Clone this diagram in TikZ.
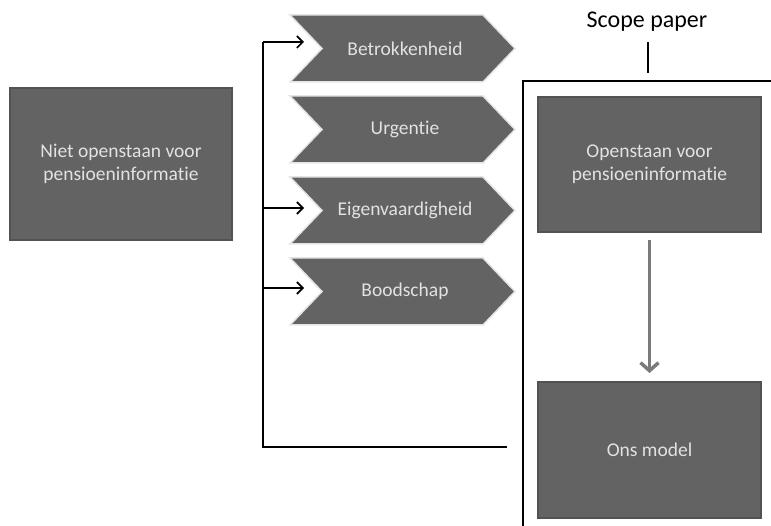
\documentclass[tikz,border=0pt]{standalone}
\usepackage{fontspec}
\setmainfont{Carlito}[Ligatures=NoCommon]
\usetikzlibrary{arrows.meta}
\definecolor{boxfill}{HTML}{636363}
\definecolor{boxedge}{HTML}{525252}
\definecolor{boxtext}{HTML}{E2E2E2}
\definecolor{flowgray}{HTML}{7A7A7A}
\tikzset{
  darkbox/.style={draw=boxedge, line width=1.2pt, fill=boxfill},
  boxlabel/.style={text=boxtext, font=\fontsize{19.5}{23}\selectfont, align=center},
  chevshape/.style={fill=boxfill, draw=black!10, line width=1.5pt, line join=miter},
  bracket/.style={draw=black, line width=1.8pt},
  feed/.style={draw=black, line width=1.6pt, -{Straight Barb[length=6pt,width=12pt,line width=1.6pt]}},
}
\begin{document}
\begin{tikzpicture}[x=1pt,y=-1pt]
  \useasboundingbox (0,0) rectangle (771,526);

  % left state
  \draw[darkbox] (10,88) rectangle (232,240);
  \node[boxlabel] (niet) at (121,164) {Niet openstaan voor\\pensioeninformatie};

  % chevrons: top, bottom, label, name, arrow height
  \foreach \t/\b/\lab/\nm/\ay in {15/82/Betrokkenheid/betr/42, 96/163/Urgentie/urg/129, 177/244/Eigenvaardigheid/eigen/208, 258/325/Boodschap/bood/288}{
    \pgfmathsetmacro{\m}{(\t+\b)/2}
    \draw[chevshape] (290,\t) -- (483,\t) -- (515,\m) -- (483,\b) -- (290,\b) -- (322,\m) -- cycle;
    \node[boxlabel] (\nm) at (405,\m) {\lab};
    \coordinate (\nm-in) at (304,\ay);
    \coordinate (\nm-tap) at (263,\ay);
  }

  % feedback bracket
  \coordinate (brbot) at (263,447);
  \coordinate (brend) at (507,447);
  \draw[bracket, line join=miter] (brend) -- (brbot) -- (betr-tap);
  \draw[feed] (betr-tap) -- (betr-in);
  \draw[feed] (eigen-tap) -- (eigen-in);
  \draw[feed] (bood-tap) -- (bood-in);

  % scope frame
  \draw[line width=2.2pt, line join=miter] (523,526) -- (523,81) -- (771,81);
  \node[font=\fontsize{24}{26}\selectfont] (scope) at (647,22) {Scope paper};
  \coordinate (tickA) at (648,42);
  \coordinate (tickB) at (648,73);
  \draw[line width=2.5pt] (tickA) -- (tickB);

  % right states
  \draw[darkbox] (538,97) rectangle (761,232);
  \node[boxlabel] (open) at (649.5,164.5) {Openstaan voor\\pensioeninformatie};
  \draw[darkbox] (538,382) rectangle (761,518);
  \node[boxlabel] (ons) at (649.5,450) {Ons model};

  \coordinate (arrA) at (649.5,240);
  \coordinate (arrB) at (649.5,373);
  \draw[flowgray, line width=3.5pt, -{Straight Barb[length=8pt,width=18pt,line width=3.5pt]}] (arrA) -- (arrB);
\end{tikzpicture}
\end{document}
